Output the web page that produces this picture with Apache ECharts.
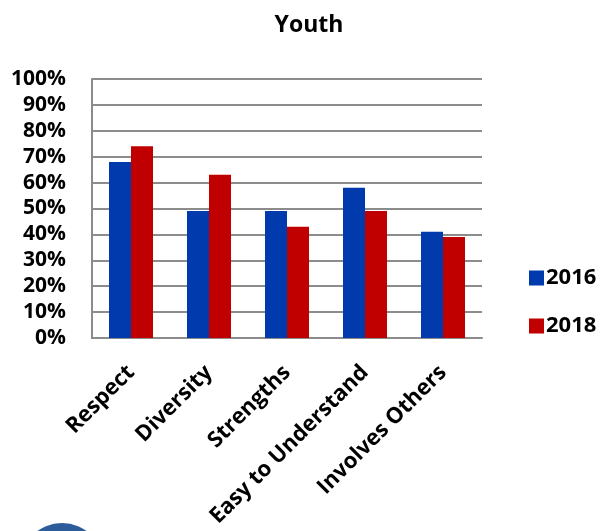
<!DOCTYPE html>
<html>
<head>
<meta charset="utf-8">
<script src="https://cdn.jsdelivr.net/npm/echarts@6/dist/echarts.min.js"></script>
<style>
  html, body { margin: 0; padding: 0; background: #fff; }
  #chart { width: 601px; height: 531px; }
</style>
</head>
<body>
<div id="chart"></div>
<script>
// data
var categories = ['Respect', 'Diversity', 'Strengths', 'Easy to Understand', 'Involves Others'];
var values2016 = [68, 49, 49, 58, 41];
var values2018 = [74, 63, 43, 49, 39];
var seriesNames = ['2016', '2018'];

var FONT = '"Open Sans", sans-serif';

var chart = echarts.init(document.getElementById('chart'), null, { renderer: 'canvas' });

chart.setOption({
  animation: false,
  title: {
    text: 'Youth',
    left: 304,
    textAlign: 'center',
    top: 9,
    textStyle: { fontFamily: FONT, fontWeight: 'bold', fontSize: 23, color: '#000' }
  },
  legend: {
    orient: 'vertical',
    left: 524,
    top: 262,
    itemWidth: 15,
    itemHeight: 15,
    itemGap: 26,
    icon: 'rect',
    textStyle: { fontFamily: FONT, fontWeight: 'bold', fontSize: 22, color: '#000', padding: [0, 0, 0, -3] },
    data: seriesNames
  },
  grid: {
    left: 92,
    top: 79,
    width: 390,
    height: 259,
    containLabel: false
  },
  xAxis: {
    type: 'category',
    data: categories,
    axisTick: { show: false },
    axisLine: { show: true, lineStyle: { color: '#8c8c8c', width: 2 } },
    axisLabel: {
      interval: 0,
      rotate: 45,
      margin: 31,
      fontFamily: FONT,
      fontWeight: 'bold',
      fontSize: 22,
      color: '#000'
    }
  },
  yAxis: {
    type: 'value',
    min: 0,
    max: 100,
    interval: 10,
    axisLine: { show: true, lineStyle: { color: '#8c8c8c', width: 2 } },
    axisTick: { show: false },
    splitLine: { lineStyle: { color: '#8c8c8c', width: 2 } },
    axisLabel: {
      margin: 26,
      formatter: '{value}%',
      fontFamily: FONT,
      fontWeight: 'bold',
      fontSize: 21,
      color: '#000'
    }
  },
  series: [
    {
      name: seriesNames[0],
      type: 'bar',
      data: values2016,
      barWidth: 22,
      barGap: '0%',
      itemStyle: { color: '#003aad' }
    },
    {
      name: seriesNames[1],
      type: 'bar',
      data: values2018,
      barWidth: 22,
      barGap: '0%',
      itemStyle: { color: '#c00000' }
    }
  ],
  graphic: [
    {
      // logo peeking in at the bottom left
      type: 'circle',
      shape: { cx: 62, cy: 565, r: 42 },
      style: { fill: '#2c5c9a' }
    }
  ]
});
</script>
</body>
</html>
